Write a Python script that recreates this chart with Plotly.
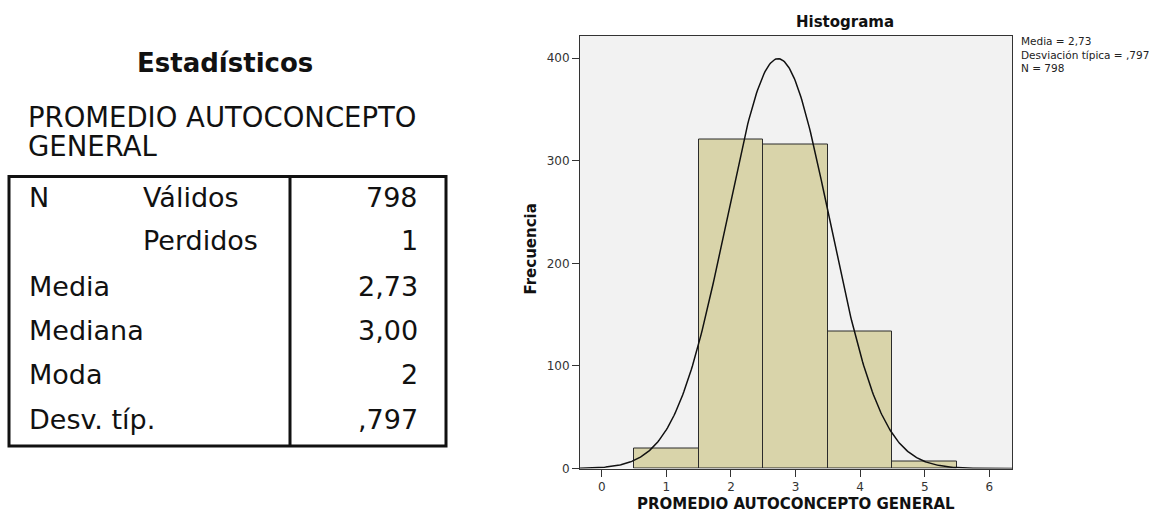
import numpy as np
import plotly.graph_objects as go

# ---------------- data ----------------
bin_centers = [1, 2, 3, 4, 5]
frequencies = [20, 321, 316, 134, 7]
stat_mean = 2.73
stat_sd = 0.797
stat_n = 798
info_lines = ["Media = 2,73", "Desviación típica = ,797", "N = 798"]

table_title = "Estadísticos"
table_var = ["PROMEDIO AUTOCONCEPTO", "GENERAL"]
row_labels_1 = ["N", "", "Media", "Mediana", "Moda", "Desv. típ."]
row_labels_2 = ["Válidos", "Perdidos", "", "", "", ""]
row_values = ["798", "1", "2,73", "3,00", "2", ",797"]

x_ticks = [0, 1, 2, 3, 4, 5, 6]
y_ticks = [0, 100, 200, 300, 400]

W, H = 1160, 519
FONT = "DejaVu Sans"

def px(x):
    return x / W

def py(y):
    return 1 - y / H

fig = go.Figure()

# histogram bars
fig.add_trace(go.Bar(
    x=bin_centers, y=frequencies, width=1.0,
    marker=dict(color="#D9D4AA", line=dict(color="#2b2b2b", width=1)),
    hoverinfo="x+y", showlegend=False,
))

# normal curve from the reported statistics
xc = np.linspace(-0.34, 6.35, 400)
yc = stat_n * 1.0 / (stat_sd * np.sqrt(2 * np.pi)) * np.exp(-0.5 * ((xc - stat_mean) / stat_sd) ** 2)
fig.add_trace(go.Scatter(x=xc, y=yc, mode="lines",
                         line=dict(color="#111111", width=1.5),
                         hoverinfo="skip", showlegend=False))

x0p, x1p = 580, 1012
y0p, y1p = 36, 475

axis_common = dict(ticks="outside", ticklen=7, tickcolor="#333", showgrid=False, zeroline=False,
                   showline=True, linecolor="#333", linewidth=1, mirror=True,
                   tickfont=dict(size=12, color="#333"), fixedrange=True)

fig.update_layout(
    width=W, height=H,
    margin=dict(l=0, r=0, t=0, b=0),
    paper_bgcolor="white",
    plot_bgcolor="#F2F2F2",
    font=dict(family=FONT, color="#222222"),
    bargap=0,
    xaxis=dict(domain=[px(x0p), px(x1p)], range=[-0.336, 6.35], tickvals=x_ticks, **axis_common),
    yaxis=dict(domain=[py(y1p), py(y0p)], range=[0, 422], tickvals=y_ticks, **axis_common),
)

annotations = []
# chart title and axis titles
annotations.append(dict(text="<b>Histograma</b>", x=px(845), y=py(22), xref="paper", yref="paper",
                        showarrow=False, font=dict(size=15, color="#111"), xanchor="center", yanchor="middle"))
annotations.append(dict(text="<b>PROMEDIO AUTOCONCEPTO GENERAL</b>", x=px(796), y=py(511), xref="paper", yref="paper",
                        showarrow=False, font=dict(size=15, color="#111"), xanchor="center", yanchor="middle"))
annotations.append(dict(text="<b>Frecuencia</b>", x=px(531), y=py(253), xref="paper", yref="paper", textangle=-90,
                        showarrow=False, font=dict(size=15, color="#111"), xanchor="center", yanchor="middle"))
annotations.append(dict(text="<br>".join(info_lines), x=px(1019), y=py(33), xref="paper", yref="paper",
                        align="left", showarrow=False, font=dict(size=10.5, color="#222"),
                        xanchor="left", yanchor="top"))

# statistics table
annotations.append(dict(text="<b>" + table_title + "</b>", x=px(225), y=py(64), xref="paper", yref="paper",
                        showarrow=False, font=dict(size=26, color="#111"), xanchor="center", yanchor="middle"))
for i, t in enumerate(table_var):
    annotations.append(dict(text=t, x=px(26), y=py(119 + 29 * i), xref="paper", yref="paper",
                            showarrow=False, font=dict(size=27.5, color="#111"), xanchor="left", yanchor="middle"))
row_y = [200, 244, 290, 335, 380, 425]
for yy, l1, l2, v in zip(row_y, row_labels_1, row_labels_2, row_values):
    if l1:
        annotations.append(dict(text=l1, x=px(27), y=py(yy), xref="paper", yref="paper",
                                showarrow=False, font=dict(size=27, color="#111"), xanchor="left", yanchor="middle"))
    if l2:
        annotations.append(dict(text=l2, x=px(141), y=py(yy), xref="paper", yref="paper",
                                showarrow=False, font=dict(size=27, color="#111"), xanchor="left", yanchor="middle"))
    annotations.append(dict(text=v, x=px(420), y=py(yy), xref="paper", yref="paper",
                            showarrow=False, font=dict(size=27, color="#111"), xanchor="right", yanchor="middle"))

shapes = [
    dict(type="rect", xref="paper", yref="paper", x0=px(9), x1=px(446), y0=py(452), y1=py(179),
         line=dict(color="#111", width=3)),
    dict(type="line", xref="paper", yref="paper", x0=px(290), x1=px(290), y0=py(452), y1=py(179),
         line=dict(color="#111", width=3)),
]

fig.update_layout(annotations=annotations, shapes=shapes)
fig.write_html("out.html", config={"displayModeBar": False},
               post_script="document.body.style.margin='0';")
